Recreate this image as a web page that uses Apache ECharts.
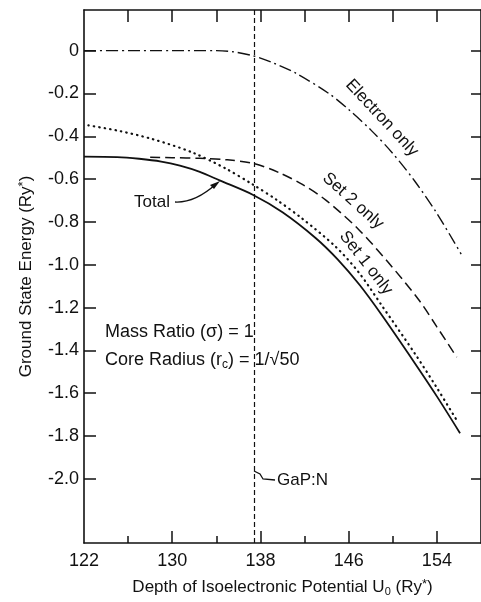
<!DOCTYPE html>
<html>
<head>
<meta charset="utf-8">
<script src="https://cdn.jsdelivr.net/npm/echarts@6/dist/echarts.min.js"></script>
<style>
html, body { margin: 0; padding: 0; background: #fff; }
#chart { width: 481px; height: 602px; }
</style>
</head>
<body>
<div id="chart"></div>
<script>
// ground state energy vs potential depth
var electronX = [122, 126, 130, 134, 135.5, 137.4, 139.2, 141.2, 144.2, 146, 148, 150, 152, 154, 156.2];
var electronY = [0, 0, 0, 0, -0.005, -0.025, -0.058, -0.105, -0.2, -0.275, -0.37, -0.48, -0.61, -0.76, -0.95];

var set2X = [128, 130, 132.5, 135, 137.4, 139.7, 141.8, 143.9, 146.9, 149.6, 152.3, 154, 155.8];
var set2Y = [-0.498, -0.5, -0.503, -0.51, -0.527, -0.57, -0.625, -0.697, -0.835, -0.99, -1.16, -1.29, -1.432];

var set1X = [122.4, 125.2, 128.2, 131.8, 134.9, 137.3, 139.5, 141.8, 144.8, 146.9, 149, 152, 154, 155.9];
var set1Y = [-0.349, -0.375, -0.413, -0.475, -0.552, -0.625, -0.698, -0.785, -0.915, -1.035, -1.19, -1.415, -1.575, -1.735];

var totalX = [122, 125, 127, 129, 130.7, 132.5, 134.3, 137.3, 140, 143, 145, 147, 149, 152, 154, 156.1];
var totalY = [-0.495, -0.497, -0.505, -0.518, -0.537, -0.566, -0.606, -0.673, -0.755, -0.875, -0.975, -1.095, -1.235, -1.46, -1.615, -1.787];

var gapN = 137.4;

var xMajor = [130, 138, 146, 154];
var xMinor = [126, 134, 142, 150];
var xLabels = [122, 130, 138, 146, 154];
var xTop = [126, 130, 134, 138, 142, 146, 150, 154];
var yTicks = [0, -0.2, -0.4, -0.6, -0.8, -1.0, -1.2, -1.4, -1.6, -1.8, -2.0];

function pairs(xs, ys) {
    return xs.map(function (x, i) { return [x, ys[i]]; });
}

var font = 'Liberation Sans, Arial, sans-serif';
var ink = '#111';

var myChart = echarts.init(document.getElementById('chart'));

var option = {
    animation: false,
    backgroundColor: '#fff',
    grid: { left: 84, top: 10, width: 399, height: 537 },
    xAxis: [
        {
            type: 'value', position: 'bottom', min: 122, max: 158,
            axisLine: { onZero: false, lineStyle: { color: ink, width: 1.6 } },
            axisTick: { inside: true, length: 12, customValues: xMajor, lineStyle: { color: ink, width: 1.5 } },
            axisLabel: { customValues: xLabels, color: ink, fontSize: 18, fontFamily: font, margin: 9 },
            splitLine: { show: false },
            name: 'Depth of Isoelectronic Potential U{sub|0} (Ry{sup|*})',
            nameLocation: 'middle', nameGap: 35,
            nameTextStyle: {
                color: ink, fontSize: 17, fontFamily: font,
                rich: {
                    sub: { fontSize: 11, fontFamily: font, color: ink, verticalAlign: 'bottom', padding: [8, 0, 0, 0] },
                    sup: { fontSize: 13, fontFamily: font, color: ink, verticalAlign: 'top', padding: [0, 0, 6, 0] }
                }
            }
        },
        {
            type: 'value', position: 'bottom', min: 122, max: 158,
            axisLine: { show: false, onZero: false },
            axisTick: { inside: true, length: 7, customValues: xMinor, lineStyle: { color: ink, width: 1.5 } },
            axisLabel: { show: false },
            splitLine: { show: false }
        },
        {
            type: 'value', position: 'top', min: 122, max: 158,
            axisLine: { onZero: false, lineStyle: { color: ink, width: 1.6 } },
            axisTick: { inside: true, length: 12, customValues: xTop, lineStyle: { color: ink, width: 1.5 } },
            axisLabel: { show: false },
            splitLine: { show: false }
        }
    ],
    yAxis: [
        {
            type: 'value', position: 'left', min: -2.3, max: 0.19,
            axisLine: { onZero: false, lineStyle: { color: ink, width: 1.6 } },
            axisTick: { inside: true, length: 12, customValues: yTicks, lineStyle: { color: ink, width: 1.5 } },
            axisLabel: {
                customValues: yTicks, color: ink, fontSize: 18, fontFamily: font, margin: 5,
                formatter: function (v) { return v === 0 ? '0' : v.toFixed(1); }
            },
            splitLine: { show: false },
            name: 'Ground State Energy (Ry{sup|*})',
            nameLocation: 'middle', nameGap: 48, nameRotate: 90,
            nameTextStyle: {
                color: ink, fontSize: 17, fontFamily: font,
                rich: { sup: { fontSize: 13, fontFamily: font, color: ink, verticalAlign: 'top', padding: [0, 0, 6, 0] } }
            }
        },
        {
            type: 'value', position: 'right', min: -2.3, max: 0.19,
            axisLine: { onZero: false, lineStyle: { color: ink, width: 1.6 } },
            axisTick: { inside: true, length: 10, customValues: yTicks, lineStyle: { color: ink, width: 1.5 } },
            axisLabel: { show: false },
            splitLine: { show: false }
        }
    ],
    series: [
        {
            name: 'Electron only', type: 'line', showSymbol: false, smooth: 0.3,
            data: pairs(electronX, electronY),
            lineStyle: { color: ink, width: 1.4, type: [12, 4, 2, 4] }
        },
        {
            name: 'Set 2 only', type: 'line', showSymbol: false, smooth: 0.3,
            data: pairs(set2X, set2Y),
            lineStyle: { color: ink, width: 1.5, type: [10, 5] }
        },
        {
            name: 'Set 1 only', type: 'line', showSymbol: false, smooth: 0.3,
            data: pairs(set1X, set1Y),
            lineStyle: { color: ink, width: 2.2, type: [0.5, 5], cap: 'round' }
        },
        {
            name: 'Total', type: 'line', showSymbol: false, smooth: 0.3,
            data: pairs(totalX, totalY),
            lineStyle: { color: ink, width: 1.8 },
            markLine: {
                silent: true, symbol: 'none', label: { show: false },
                lineStyle: { color: ink, width: 1.2, type: [5, 3] },
                data: [{ xAxis: gapN }]
            }
        }
    ],
    graphic: [
        { type: 'text', x: 382, y: 118, rotation: -47 * Math.PI / 180,
          style: { text: 'Electron only', font: '17px ' + font, fill: ink, align: 'center', verticalAlign: 'middle' } },
        { type: 'text', x: 353, y: 201, rotation: -42 * Math.PI / 180,
          style: { text: 'Set 2 only', font: '17px ' + font, fill: ink, align: 'center', verticalAlign: 'middle' } },
        { type: 'text', x: 366, y: 263, rotation: -52 * Math.PI / 180,
          style: { text: 'Set 1 only', font: '17px ' + font, fill: ink, align: 'center', verticalAlign: 'middle' } },
        { type: 'text', x: 152, y: 202,
          style: { text: 'Total', font: '17px ' + font, fill: ink, align: 'center', verticalAlign: 'middle' } },
        { type: 'bezierCurve',
          shape: { x1: 175, y1: 202, cpx1: 195, cpy1: 203, x2: 216, y2: 184 },
          style: { stroke: ink, lineWidth: 1.3, fill: null } },
        { type: 'polygon',
          shape: { points: [[220, 181], [210, 185], [214, 189]] },
          style: { fill: ink } },
        { type: 'text', x: 105, y: 332,
          style: { text: 'Mass Ratio (σ) = 1', font: '18px ' + font, fill: ink, verticalAlign: 'middle' } },
        { type: 'text', x: 105, y: 360,
          style: {
              text: 'Core Radius (r{sub|c}) = 1/√50', font: '18px ' + font, fill: ink, verticalAlign: 'middle',
              rich: { sub: { font: '12px ' + font, fill: ink, verticalAlign: 'bottom', padding: [10, 0, 0, 0] } }
          } },
        { type: 'text', x: 277, y: 480,
          style: { text: 'GaP:N', font: '17px ' + font, fill: ink, verticalAlign: 'middle' } },
        { type: 'polyline',
          shape: { points: [[254, 471], [260, 474], [263, 479], [275, 480]] },
          style: { stroke: ink, lineWidth: 1.3, fill: null } }
    ]
};

myChart.setOption(option);

window.onresize = function () {
    myChart.resize();
};
</script>
</body>
</html>
